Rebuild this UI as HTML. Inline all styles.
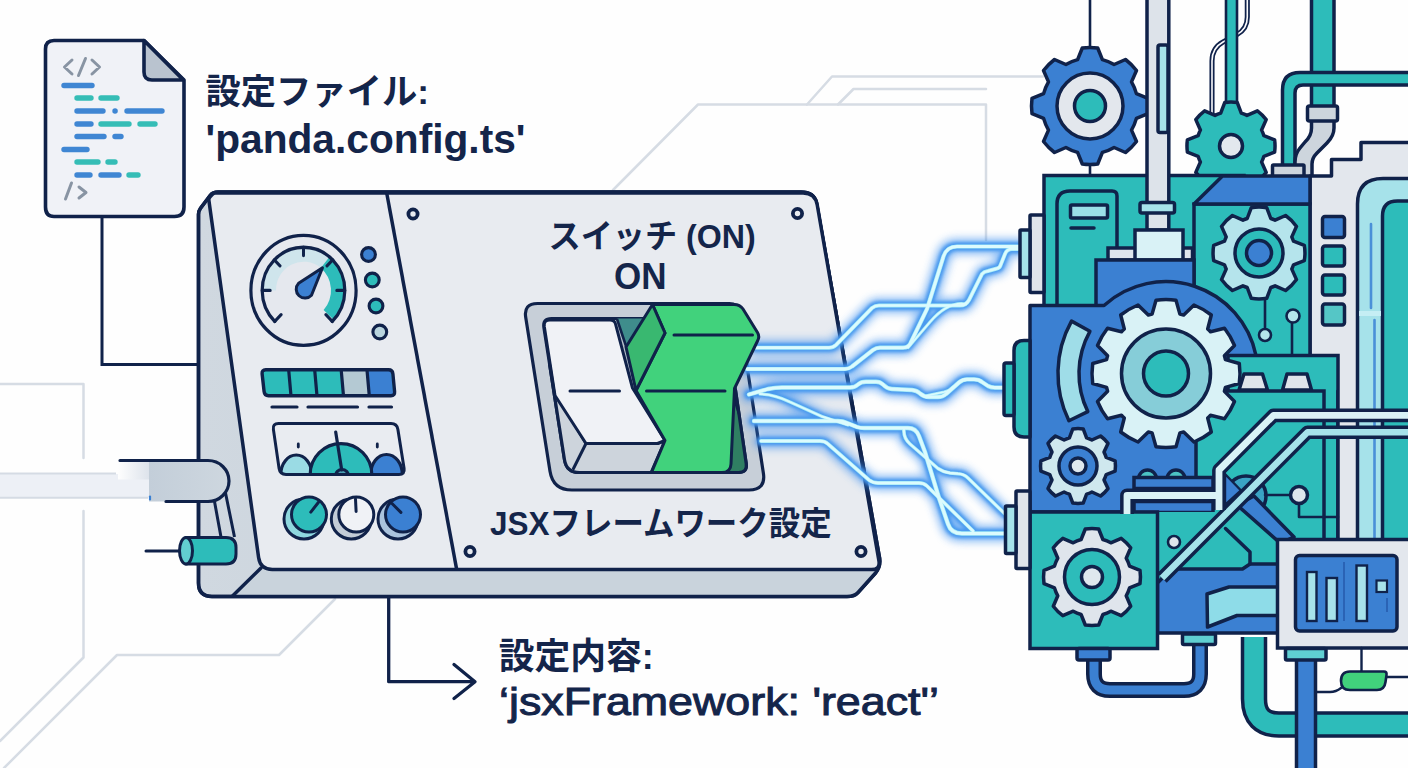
<!DOCTYPE html>
<html lang="ja"><head><meta charset="utf-8"><title>panda.config.ts — jsxFramework: 'react'</title>
<style>html,body{margin:0;padding:0;background:#fefefe}body{width:1408px;height:768px;overflow:hidden;font-family:"Liberation Sans",sans-serif}svg{display:block}</style>
</head><body>
<svg width="1408" height="768" viewBox="0 0 1408 768">
<defs>
<filter id="gl" x="-20%" y="-20%" width="140%" height="140%"><feGaussianBlur stdDeviation="4.2"/></filter>
<filter id="gl2" x="-20%" y="-20%" width="140%" height="140%"><feGaussianBlur stdDeviation="1.6"/></filter>
<linearGradient id="sideg" x1="0" y1="0" x2="1" y2="0"><stop offset="0" stop-color="#d0d8e0"/><stop offset="1" stop-color="#c1ccd6"/></linearGradient>
<linearGradient id="pipeg" x1="0" y1="0" x2="1" y2="0"><stop offset="0" stop-color="#c3ced9"/><stop offset="1" stop-color="#ced7df"/></linearGradient>
<linearGradient id="fadeg" x1="0" y1="0" x2="1" y2="0"><stop offset="0" stop-color="#fefefe"/><stop offset="1" stop-color="#dde3eb"/></linearGradient>
</defs>
<rect width="1408" height="768" fill="#fefefe"/>
<g fill="none" stroke="#d6dce4" stroke-width="2.5" stroke-linecap="round" stroke-linejoin="round"><path d="M613 190L698 104.5H986V240"/><path d="M807 104.5L832 76.5H1043"/><path d="M838 104.5L853.5 89H986"/><path d="M0 384H83.5V458"/><path d="M83.5 511V657.5L0 741"/><path d="M335 599L279 655H117L4 768"/></g>
<rect x="0" y="474" width="149" height="23.5" fill="#edf0f6"/>
<path d="M0 473.5H116M0 497.8H148" stroke="#d5dbe4" stroke-width="2" fill="none"/>
<path d="M102 217V364.5H200" fill="none" stroke="#10224a" stroke-width="3"/>
<path d="M54 40.5H144L184 80V207Q184 216.5 174.5 216.5H54Q45.5 216.5 45.5 207V49Q45.5 40.5 54 40.5Z" fill="#f0f2f7" stroke="#10224a" stroke-width="3.6" stroke-linejoin="round"/>
<path d="M144 40.5L183.3 80H152Q144 80 144 72Z" fill="#b9c3cf" stroke="#10224a" stroke-width="3.6" stroke-linejoin="round"/>
<g fill="none" stroke="#8894a3" stroke-width="3" stroke-linecap="round" stroke-linejoin="round"><path d="M72 60L64.5 67L72 74M85.5 58.5L78.5 75.5M92 60L99.5 67L92 74"/><path d="M71.5 183L65.5 199M79 187L86 192.5L79 198"/></g>
<g fill="none" stroke-width="5.4" stroke-linecap="round"><path d="M64 85.5H92" stroke="#3f86d3"/><path d="M77 98H91" stroke="#35bdb6"/><path d="M101 98H117" stroke="#35bdb6"/><path d="M77 111H103" stroke="#3f86d3"/><path d="M127 111H162" stroke="#3f86d3"/><path d="M77 124H91" stroke="#3f86d3"/><path d="M101 124H129" stroke="#35bdb6"/><path d="M140 124H155" stroke="#35bdb6"/><path d="M77 136.5H104" stroke="#3f86d3"/><path d="M115 136.5H121" stroke="#3f86d3"/><path d="M64 149.5H87" stroke="#3f86d3"/><path d="M77 162H98" stroke="#35bdb6"/><path d="M108 162H115" stroke="#35bdb6"/><path d="M77 175H90" stroke="#3f86d3"/><path d="M101 175H119" stroke="#3f86d3"/><path d="M129 175H138" stroke="#35bdb6"/><path d="M115 111h.1" stroke="#3f86d3"/></g>
<path d="M198.5 218V214.5Q198.5 211 200.5 208.3L210.5 195Q213 192 218 192H801Q814 192 816.5 203L879.2 556Q881.5 566 875.5 573L858 592.5Q854.5 596.5 847 596.5H212Q198.5 596.5 198.5 583Z" fill="url(#sideg)" stroke="#10224a" stroke-width="3.5" stroke-linejoin="round"/>
<path d="M262 569.5H871L879 566L875.5 573L858 592.5Q854.5 596.5 847 596.5H232Z" fill="#c9d3dc"/>
<path d="M198.5 218V214.5Q198.5 211 200.5 208.3L210.5 195Q213 192 218 192H801Q814 192 816.5 203L879.2 556Q881.5 566 875.5 573L858 592.5Q854.5 596.5 847 596.5H212Q198.5 596.5 198.5 583Z" fill="none" stroke="#10224a" stroke-width="3.5" stroke-linejoin="round"/>
<path d="M212.2 194.5Q213.5 193 215.5 193L803.1 193Q815.1 193 817.2 204.8L878.9 560.6Q880.5 569.5 871.5 569.5L272.3 569.5Q260.3 569.5 258.6 557.6L208.9 200.5Q208.6 198.5 209.9 197Z" fill="#e8ebf0" stroke="#10224a" stroke-width="3.5" stroke-linejoin="round"/>
<path d="M261 568L232.5 596" stroke="#10224a" stroke-width="3.5" stroke-linecap="round"/>
<path d="M386.7 193L456.7 569.5" stroke="#10224a" stroke-width="3.5"/>
<circle cx="413" cy="214" r="4.6" fill="#e8ebf0" stroke="#10224a" stroke-width="3.8"/>
<circle cx="797.5" cy="213.5" r="4.6" fill="#e8ebf0" stroke="#10224a" stroke-width="3.8"/>
<circle cx="861" cy="551.5" r="4.6" fill="#e8ebf0" stroke="#10224a" stroke-width="3.8"/>
<circle cx="470" cy="551.5" r="4.6" fill="#e8ebf0" stroke="#10224a" stroke-width="3.8"/>
<path d="M213.5 496L221 537M224.5 488L234.5 537" stroke="#10224a" stroke-width="3" fill="none"/>
<rect x="118" y="462" width="31" height="17.5" fill="url(#fadeg)"/>
<path d="M149 460.5H208A21 20.5 0 0 1 208 501.5H149Z" fill="url(#pipeg)"/>
<path d="M120 460.5H208A21 20.5 0 0 1 208 501.5H166" fill="none" stroke="#10224a" stroke-width="3.2" stroke-linecap="round"/>
<path d="M150 496.5V499.5" stroke="#3b80d2" stroke-width="2.2" stroke-linecap="round"/>
<path d="M146 551H180" stroke="#10224a" stroke-width="3" stroke-linecap="round"/>
<path d="M186 537.5H226Q236 537.5 236 547.5V554Q236 564 226 564H186Z" fill="#2dbcba" stroke="#10224a" stroke-width="3" stroke-linejoin="round"/>
<ellipse cx="186" cy="550.8" rx="6.5" ry="13.3" fill="#62cfd0" stroke="#10224a" stroke-width="3"/>
<g transform="translate(303.5 290.4) scale(1 1.045) translate(-303.5 -290.4)">
<circle cx="303.5" cy="290.4" r="52.6" fill="#e5e8ee" stroke="#10224a" stroke-width="3.2"/>
<path d="M262.2 290.4A41.3 41.3 0 0 1 329.5 258.3L320.8 269A27.5 27.5 0 0 0 276 290.4Z" fill="#cfe5ec"/>
<path d="M329.5 258.3A41.3 41.3 0 0 1 333.7 318.6L323.6 309.2A27.5 27.5 0 0 0 320.8 269Z" fill="#2dbcba"/>
<path d="M274.8 320.1A41.3 41.3 0 1 1 332.2 320.1" fill="none" stroke="#10224a" stroke-width="3.2" stroke-linecap="round"/>
<path d="M274.8 320.1L281.1 313.6M262.2 290.4L270.2 290.4M274.3 261.2L280 266.9M303.5 249.1L303.5 257.1M332.7 261.2L327 266.9M344.8 290.4L336.8 290.4M332.2 320.1L325.9 313.6" stroke="#10224a" stroke-width="3" stroke-linecap="round" fill="none"/>
</g>
<path d="M322.5 267.8L311.5 295.3A8.3 8.3 0 1 1 298.6 283.3Z" fill="#3b80d2" stroke="#10224a" stroke-width="3" stroke-linejoin="round"/>
<circle cx="368.5" cy="254.5" r="6.9" fill="#3b80d2" stroke="#10224a" stroke-width="3.1"/>
<circle cx="372.3" cy="280" r="6.9" fill="#2dbcba" stroke="#10224a" stroke-width="3.1"/>
<circle cx="376" cy="306" r="6.9" fill="#2dbcba" stroke="#10224a" stroke-width="3.1"/>
<circle cx="379.8" cy="332" r="6.9" fill="#b9d5de" stroke="#10224a" stroke-width="3.1"/>
<path d="M262.1 373.8Q261.7 369.8 265.7 369.8L388.5 369.8Q392.5 369.8 392.9 373.8L394.6 391.7Q395 395.7 391 395.7L268.5 395.7Q264.5 395.7 264.1 391.7Z" fill="#2dbcba"/>
<path d="M341.2 371L343.5 394.5H369.3L367 371Z" fill="#b4c9d3"/><path d="M367 371L369.3 394.5H393.3L391 371Z" fill="#3b80d2"/>
<path d="M288.7 370L291 396M314.7 370L317 396M341.2 370L343.5 396M367 370L369.3 396" stroke="#10224a" stroke-width="3.2"/>
<path d="M262.1 373.8Q261.7 369.8 265.7 369.8L388.5 369.8Q392.5 369.8 392.9 373.8L394.6 391.7Q395 395.7 391 395.7L268.5 395.7Q264.5 395.7 264.1 391.7Z" fill="none" stroke="#10224a" stroke-width="3.4" stroke-linejoin="round"/>
<path d="M272 407H297M308 407H357.5M369 407H391.5" stroke="#10224a" stroke-width="3.2" stroke-linecap="round"/>
<clipPath id="mc"><path d="M273.4 429.4Q272.5 423.5 278.5 423.5L391 423.5Q397 423.5 397.9 429.4L404.1 468.6Q405 474.5 399 474.5L286 474.5Q280 474.5 279.1 468.6Z"/></clipPath>
<path d="M273.4 429.4Q272.5 423.5 278.5 423.5L391 423.5Q397 423.5 397.9 429.4L404.1 468.6Q405 474.5 399 474.5L286 474.5Q280 474.5 279.1 468.6Z" fill="#e9ecf1"/>
<g clip-path="url(#mc)" stroke="#10224a" stroke-width="3.2"><ellipse cx="296.3" cy="474.5" rx="15.5" ry="19.5" fill="#9adbe4"/><ellipse cx="386.5" cy="474.5" rx="15.8" ry="20" fill="#3b80d2"/><circle cx="341" cy="474.5" r="30.8" fill="#2dbcba"/><circle cx="342" cy="476" r="6.5" fill="#4ba0b4"/></g>
<path d="M341.7 470L335.7 432" stroke="#10224a" stroke-width="3.2" stroke-linecap="round"/>
<path d="M298.3 444V447M377.3 444V447" stroke="#10224a" stroke-width="2.8" stroke-linecap="round"/>
<path d="M273.4 429.4Q272.5 423.5 278.5 423.5L391 423.5Q397 423.5 397.9 429.4L404.1 468.6Q405 474.5 399 474.5L286 474.5Q280 474.5 279.1 468.6Z" fill="none" stroke="#10224a" stroke-width="3" stroke-linejoin="round"/>
<circle cx="304" cy="519" r="20" fill="#8fd8df" stroke="#10224a" stroke-width="3"/>
<circle cx="309" cy="514.5" r="17.5" fill="#2dbcba" stroke="#10224a" stroke-width="3"/>
<path d="M310.8 512.1L318.5 502.3" stroke="#10224a" stroke-width="3" stroke-linecap="round"/>
<circle cx="351.3" cy="519" r="20" fill="#c3ccd7" stroke="#10224a" stroke-width="3"/>
<circle cx="356.3" cy="514.5" r="17.5" fill="#f0f2f6" stroke="#10224a" stroke-width="3"/>
<path d="M356.1 511.5L355.5 499" stroke="#10224a" stroke-width="3" stroke-linecap="round"/>
<circle cx="398" cy="519" r="20" fill="#aac3dd" stroke="#10224a" stroke-width="3"/>
<circle cx="403" cy="514.5" r="17.5" fill="#3b80d2" stroke="#10224a" stroke-width="3"/>
<path d="M400.9 512.4L392 503.5" stroke="#10224a" stroke-width="3" stroke-linecap="round"/>
<path d="M525.7 317.3Q523.5 303.5 537.5 303.5L729.5 303.5Q737.5 303.5 738.7 311.4L763.4 473.2Q766 490 749 490L572 490Q553 490 550 471.2Z" fill="#c7cfd8" stroke="#10224a" stroke-width="3.2" stroke-linejoin="round"/>
<path d="M543.9 327.4Q542.5 318.5 551.5 318.5L721 318.5Q725 318.5 725.6 322.5L746.2 463.6Q747.5 472.5 738.5 472.5L579.5 472.5Q566.5 472.5 564.5 459.7Z" fill="#b7c1cc" stroke="#10224a" stroke-width="3.2" stroke-linejoin="round"/>
<clipPath id="wc"><path d="M543.9 327.4Q542.5 318.5 551.5 318.5L721 318.5Q725 318.5 725.6 322.5L746.2 463.6Q747.5 472.5 738.5 472.5L579.5 472.5Q566.5 472.5 564.5 459.7Z"/></clipPath>
<g fill="none" stroke-linecap="round" stroke-linejoin="round"><g filter="url(#gl)" stroke="#3b8ff0" opacity=".62"><path d="M756 347.7H829Q833 347.7 836 345L872 308Q875 305.5 879 305.5H960Q966 305.5 969 300L982 274Q984 271.5 988 271L997 268.5Q1000 268 1001 264L1005 254Q1007 249 1012 249H1020" stroke-width="15.0"/><path d="M747 369H845Q849 369 852 366.5L873 350Q876 347.7 880 347.7H903Q909 347.7 911 342L927 309L943 258Q946 246.5 957 246.5H1020" stroke-width="15.5"/><path d="M908 347.7L930 322Q948 301 966 304" stroke-width="12.5"/><path d="M749 394.5L768 389Q775 387.5 782 387.5H850Q855 387.5 858 384.5Q861 381.7 866 381.7H876Q880 381.7 883 384.5Q887 388.7 892 389L912 390Q917 390.5 920 393.5Q924 397 929 397H938Q943 397 946 394L959 382.5Q962.5 379.4 967 379.4H974Q979 379.4 982 382L988 386Q991 387.6 995 387.6H1004" stroke-width="16.0"/><path d="M754 421H838Q843 421 847 423L857 427Q860 428 864 428H908Q916 428 919 436L925 452L939 498L948 524Q951 533.5 962 533.5H1006" stroke-width="16.0"/><path d="M761 441H820Q825 441 828 444L869 480Q873 483 878 483H919Q924 483 927 486L973 531" stroke-width="14.5"/><path d="M760 394Q775 394.5 790 402L822 416.5L848 425" stroke-width="13.0"/><path d="M904 428.5Q903 438 910 444L938 468.5Q943 472 950 473L958 473.7Q964 474 968 478L1006 515" stroke-width="14.0"/><path d="M925 396L944 392Q950 390.5 953 387" stroke-width="12.2"/></g><g filter="url(#gl2)" stroke="#4597ee" opacity=".92"><path d="M756 347.7H829Q833 347.7 836 345L872 308Q875 305.5 879 305.5H960Q966 305.5 969 300L982 274Q984 271.5 988 271L997 268.5Q1000 268 1001 264L1005 254Q1007 249 1012 249H1020" stroke-width="8.8"/><path d="M747 369H845Q849 369 852 366.5L873 350Q876 347.7 880 347.7H903Q909 347.7 911 342L927 309L943 258Q946 246.5 957 246.5H1020" stroke-width="9.2"/><path d="M908 347.7L930 322Q948 301 966 304" stroke-width="7.2"/><path d="M749 394.5L768 389Q775 387.5 782 387.5H850Q855 387.5 858 384.5Q861 381.7 866 381.7H876Q880 381.7 883 384.5Q887 388.7 892 389L912 390Q917 390.5 920 393.5Q924 397 929 397H938Q943 397 946 394L959 382.5Q962.5 379.4 967 379.4H974Q979 379.4 982 382L988 386Q991 387.6 995 387.6H1004" stroke-width="9.5"/><path d="M754 421H838Q843 421 847 423L857 427Q860 428 864 428H908Q916 428 919 436L925 452L939 498L948 524Q951 533.5 962 533.5H1006" stroke-width="9.5"/><path d="M761 441H820Q825 441 828 444L869 480Q873 483 878 483H919Q924 483 927 486L973 531" stroke-width="8.5"/><path d="M760 394Q775 394.5 790 402L822 416.5L848 425" stroke-width="7.6"/><path d="M904 428.5Q903 438 910 444L938 468.5Q943 472 950 473L958 473.7Q964 474 968 478L1006 515" stroke-width="8.2"/><path d="M925 396L944 392Q950 390.5 953 387" stroke-width="7.1"/></g><g stroke="#a4ebf8"><path d="M756 347.7H829Q833 347.7 836 345L872 308Q875 305.5 879 305.5H960Q966 305.5 969 300L982 274Q984 271.5 988 271L997 268.5Q1000 268 1001 264L1005 254Q1007 249 1012 249H1020" stroke-width="4.0"/><path d="M747 369H845Q849 369 852 366.5L873 350Q876 347.7 880 347.7H903Q909 347.7 911 342L927 309L943 258Q946 246.5 957 246.5H1020" stroke-width="4.2"/><path d="M908 347.7L930 322Q948 301 966 304" stroke-width="3.0"/><path d="M749 394.5L768 389Q775 387.5 782 387.5H850Q855 387.5 858 384.5Q861 381.7 866 381.7H876Q880 381.7 883 384.5Q887 388.7 892 389L912 390Q917 390.5 920 393.5Q924 397 929 397H938Q943 397 946 394L959 382.5Q962.5 379.4 967 379.4H974Q979 379.4 982 382L988 386Q991 387.6 995 387.6H1004" stroke-width="4.4"/><path d="M754 421H838Q843 421 847 423L857 427Q860 428 864 428H908Q916 428 919 436L925 452L939 498L948 524Q951 533.5 962 533.5H1006" stroke-width="4.4"/><path d="M761 441H820Q825 441 828 444L869 480Q873 483 878 483H919Q924 483 927 486L973 531" stroke-width="3.8"/><path d="M760 394Q775 394.5 790 402L822 416.5L848 425" stroke-width="3.2"/><path d="M904 428.5Q903 438 910 444L938 468.5Q943 472 950 473L958 473.7Q964 474 968 478L1006 515" stroke-width="3.6"/><path d="M925 396L944 392Q950 390.5 953 387" stroke-width="2.9"/></g><g stroke="#dcfbfd"><path d="M756 347.7H829Q833 347.7 836 345L872 308Q875 305.5 879 305.5H960Q966 305.5 969 300L982 274Q984 271.5 988 271L997 268.5Q1000 268 1001 264L1005 254Q1007 249 1012 249H1020" stroke-width="2.7"/><path d="M747 369H845Q849 369 852 366.5L873 350Q876 347.7 880 347.7H903Q909 347.7 911 342L927 309L943 258Q946 246.5 957 246.5H1020" stroke-width="2.9"/><path d="M908 347.7L930 322Q948 301 966 304" stroke-width="1.7"/><path d="M749 394.5L768 389Q775 387.5 782 387.5H850Q855 387.5 858 384.5Q861 381.7 866 381.7H876Q880 381.7 883 384.5Q887 388.7 892 389L912 390Q917 390.5 920 393.5Q924 397 929 397H938Q943 397 946 394L959 382.5Q962.5 379.4 967 379.4H974Q979 379.4 982 382L988 386Q991 387.6 995 387.6H1004" stroke-width="3.1"/><path d="M754 421H838Q843 421 847 423L857 427Q860 428 864 428H908Q916 428 919 436L925 452L939 498L948 524Q951 533.5 962 533.5H1006" stroke-width="3.1"/><path d="M761 441H820Q825 441 828 444L869 480Q873 483 878 483H919Q924 483 927 486L973 531" stroke-width="2.5"/><path d="M760 394Q775 394.5 790 402L822 416.5L848 425" stroke-width="1.9"/><path d="M904 428.5Q903 438 910 444L938 468.5Q943 472 950 473L958 473.7Q964 474 968 478L1006 515" stroke-width="2.3"/><path d="M925 396L944 392Q950 390.5 953 387" stroke-width="1.6"/></g></g>
<g clip-path="url(#wc)">
<path d="M616 316H654L640 352L627 349Z" fill="#3f8d8c" stroke="#10224a" stroke-width="2.6" stroke-linejoin="round"/>
<path d="M731 388L760 480H722Z" fill="#2f7f62" stroke="#10224a" stroke-width="2.8" stroke-linejoin="round"/>
<path d="M548 380L586 443.5H657.5L665 440.5L647 482H556Z" fill="#cdd4dc" stroke="#10224a" stroke-width="3" stroke-linejoin="round"/>
</g>
<path d="M550 320H610Q614.5 320 615.5 324L632.5 388L665 440.5L657.5 443.5H586L555 395.5L544.3 326.5Q543.5 320 550 320Z" fill="#f0f2f6" stroke="#10224a" stroke-width="3" stroke-linejoin="round"/>
<path d="M586 443.5L573.5 468.5M570 391H619.5M588 443.5H656" stroke="#10224a" stroke-width="3" stroke-linecap="round" fill="none"/>
<clipPath id="gc"><path d="M500 290H800V380H500ZM500 380H800V500H500Z"/></clipPath>
<path d="M652.5 304.5H734Q740 304.5 743 309L757.5 332.5Q760 336.5 757.5 341L734.5 388.5L731 464Q730.7 472.5 722 472.5H651.5L665 440.5L636 390.5L665 333Z" fill="#41d27c" stroke="#10224a" stroke-width="3" stroke-linejoin="round"/>
<path d="M652.5 304.5L665 333L636 390.5L626 347Z" fill="#39b870" stroke="#10224a" stroke-width="3" stroke-linejoin="round"/>
<path d="M674 335H752.5M646.5 391H725" stroke="#10224a" stroke-width="3" stroke-linecap="round" fill="none"/>
<path d="M549.7 365L564.5 459.7Q566.5 472.5 579.5 472.5H738.5Q747.5 472.5 746.2 463.6L735.5 390" fill="none" stroke="#10224a" stroke-width="3.2" stroke-linejoin="round" stroke-linecap="round"/>
<path d="M388.7 597V681.7H474M454 664.5L475 681.7L454 698.5" fill="none" stroke="#10224a" stroke-width="3.3" stroke-linecap="round" stroke-linejoin="round"/>
<g font-family="'Liberation Sans', 'Noto Sans CJK JP', sans-serif"><text x="205.5" y="104.1" font-size="35.4" font-weight="700" textLength="223.5" lengthAdjust="spacingAndGlyphs" fill="#14254a">設定ファイル:</text><text x="548.5" y="248.4" font-size="32.9" font-weight="700" textLength="207.1" lengthAdjust="spacingAndGlyphs" fill="#14254a">スイッチ (ON)</text><text x="490.1" y="534.8" font-size="32.8" font-weight="700" textLength="341.6" lengthAdjust="spacingAndGlyphs" fill="#14254a">JSXフレームワーク設定</text><text x="498.75" y="668.5" font-size="36.5" font-weight="700" textLength="155.0" lengthAdjust="spacingAndGlyphs" fill="#14254a">設定内容:</text></g>
<g font-family="'Liberation Sans', sans-serif" fill="#14254a"><text x="205.5" y="152.5" font-size="41" font-weight="700" textLength="320" lengthAdjust="spacingAndGlyphs">'panda.config.ts'</text><text x="614" y="289" font-size="36" font-weight="700" textLength="52.5" lengthAdjust="spacingAndGlyphs">ON</text><text x="499" y="715" font-size="39.5" stroke="#14254a" stroke-width="1" textLength="440" lengthAdjust="spacingAndGlyphs">‘jsxFramework: 'react'’</text></g>
<g><path d="M1090 0V178" fill="none" stroke="#10224a" stroke-width="2.6" stroke-linejoin="round" stroke-linecap="round" /><path d="M1077.6 59.6L1082.3 48A58.5 58.5 0 0 1 1097.7 48L1102.4 59.6A48 48 0 0 1 1114.1 64.5L1125.5 59.5A58.5 58.5 0 0 1 1136.5 70.5L1131.5 81.9A48 48 0 0 1 1136.4 93.6L1148 98.3A58.5 58.5 0 0 1 1148 113.7L1136.4 118.4A48 48 0 0 1 1131.5 130.1L1136.5 141.5A58.5 58.5 0 0 1 1125.5 152.5L1114.1 147.5A48 48 0 0 1 1102.4 152.4L1097.7 164A58.5 58.5 0 0 1 1082.3 164L1077.6 152.4A48 48 0 0 1 1065.9 147.5L1054.5 152.5A58.5 58.5 0 0 1 1043.5 141.5L1048.5 130.1A48 48 0 0 1 1043.6 118.4L1032 113.7A58.5 58.5 0 0 1 1032 98.3L1043.6 93.6A48 48 0 0 1 1048.5 81.9L1043.5 70.5A58.5 58.5 0 0 1 1054.5 59.5L1065.9 64.5A48 48 0 0 1 1077.6 59.6Z" fill="#3b80d2" stroke="#10224a" stroke-width="3.5" stroke-linejoin="round" stroke-linecap="round" /><circle cx="1090" cy="106" r="33" fill="#e3e7ed" stroke="#10224a" stroke-width="3.5"/><circle cx="1090" cy="106" r="15.5" fill="#2dbcba" stroke="#10224a" stroke-width="3.5"/><path d="M1247.3 -2V17Q1247.3 29 1237 34.5L1223 42Q1212 48 1212 61V114" fill="none" stroke="#10224a" stroke-width="5.1" stroke-linejoin="round"/><path d="M1247.3 -2V17Q1247.3 29 1237 34.5L1223 42Q1212 48 1212 61V114" fill="none" stroke="#fdfdfe" stroke-width="1.6" stroke-linejoin="round"/><rect x="1226" y="-6" width="11" height="110" rx="0" fill="#2dbcba" stroke="#10224a" stroke-width="2.6" /><path d="M1220.7 113.1L1224.8 102.4A44 44 0 0 1 1237.2 102.4L1241.3 113.1A34.5 34.5 0 0 1 1247 115.4L1257.4 110.8A44 44 0 0 1 1266.2 119.6L1261.6 130A34.5 34.5 0 0 1 1263.9 135.7L1274.6 139.8A44 44 0 0 1 1274.6 152.2L1263.9 156.3A34.5 34.5 0 0 1 1261.6 162L1266.2 172.4A44 44 0 0 1 1257.4 181.2L1247 176.6A34.5 34.5 0 0 1 1241.3 178.9L1237.2 189.6A44 44 0 0 1 1224.8 189.6L1220.7 178.9A34.5 34.5 0 0 1 1215 176.6L1204.6 181.2A44 44 0 0 1 1195.8 172.4L1200.4 162A34.5 34.5 0 0 1 1198.1 156.3L1187.4 152.2A44 44 0 0 1 1187.4 139.8L1198.1 135.7A34.5 34.5 0 0 1 1200.4 130L1195.8 119.6A44 44 0 0 1 1204.6 110.8L1215 115.4A34.5 34.5 0 0 1 1220.7 113.1Z" fill="#2dbcba" stroke="#10224a" stroke-width="3.5" stroke-linejoin="round" stroke-linecap="round" /><circle cx="1231" cy="146" r="11.5" fill="#e3e8ee" stroke="#10224a" stroke-width="3.5"/><rect x="1311.5" y="-6" width="22.5" height="114" rx="0" fill="#2dbcba" stroke="#10224a" stroke-width="3.5" /><path d="M1412 72.5H1300Q1282.5 72.5 1282.5 90V168H1295V93Q1295 85 1303 85H1412Z" fill="#2dbcba" stroke="#10224a" stroke-width="3.5" stroke-linejoin="round" stroke-linecap="round" /><path d="M1311.5 120V128Q1311.5 136 1305 142L1300 148Q1295 154 1295 162V178H1312V164Q1312 158 1317 153L1327 143Q1334 136 1334 128V120Z" fill="#cdd5dd" stroke="#10224a" stroke-width="3.5" stroke-linejoin="round" stroke-linecap="round" /><rect x="1307.5" y="106" width="30" height="15" rx="2" fill="#cdd5dd" stroke="#10224a" stroke-width="3.5" /><rect x="1272.5" y="165" width="31.5" height="12" rx="1" fill="#cdd5dd" stroke="#10224a" stroke-width="3.5" /><path d="M1310 176H1331.5V159.5H1361V142.5H1412V546H1310Z" fill="#e3e7ed" stroke="#10224a" stroke-width="3.5" stroke-linejoin="round" stroke-linecap="round" /><path d="M1357.5 546V204Q1357.5 178.5 1383 178.5H1412V546Z" fill="#a6e2ea" stroke="#10224a" stroke-width="3.5" stroke-linejoin="round" stroke-linecap="round" /><path d="M1382.5 546V216Q1382.5 201 1397.5 201H1412V546Z" fill="#2dbcba" stroke="#10224a" stroke-width="3.5" stroke-linejoin="round" stroke-linecap="round" /><path d="M1371 224V308M1374.5 320V546" fill="none" stroke="#4a90d8" stroke-width="2.6" stroke-linecap="round"/><path d="M1359 313.5H1381" stroke="#c5eef4" stroke-width="5" fill="none"/><rect x="1322.5" y="216.5" width="22" height="21" rx="2.5" fill="#3b80d2" stroke="#10224a" stroke-width="3.5" /><rect x="1322.5" y="246" width="22" height="20" rx="2.5" fill="#2dbcba" stroke="#10224a" stroke-width="3.5" /><rect x="1322.5" y="275" width="22" height="20" rx="2.5" fill="#2dbcba" stroke="#10224a" stroke-width="3.5" /><rect x="1322.5" y="304" width="22" height="21" rx="2.5" fill="#55c6c6" stroke="#10224a" stroke-width="3.5" /><rect x="1044" y="175.5" width="200" height="131" rx="0" fill="#2dbcba" stroke="#10224a" stroke-width="3.5" /><rect x="1194" y="204" width="116" height="152" rx="0" fill="#2dbcba" stroke="#10224a" stroke-width="3.5" /><path d="M1222.5 176H1310V204H1194Z" fill="#3b80d2" stroke="#10224a" stroke-width="3.5" stroke-linejoin="round" stroke-linecap="round" /><path d="M1057 306V204Q1057 191 1070 191H1112Q1117 191 1117 196V306" fill="none" stroke="#10224a" stroke-width="3.5" stroke-linejoin="round" stroke-linecap="round" /><rect x="1070.5" y="205" width="37" height="13" rx="1.5" fill="#9adfe8" stroke="#10224a" stroke-width="3.5" /><path d="M1071 228H1094" fill="none" stroke="#10224a" stroke-width="3.5" stroke-linejoin="round" stroke-linecap="round" /><rect x="1030" y="215" width="14" height="77.5" rx="1" fill="#dfe4eb" stroke="#10224a" stroke-width="3.5" /><rect x="1020" y="230" width="10" height="47.5" rx="1" fill="#a6e2ea" stroke="#10224a" stroke-width="3.5" /><rect x="1147" y="-6" width="21.8" height="236" rx="0" fill="#dde3ea" stroke="#10224a" stroke-width="3.5" /><rect x="1158" y="45" width="10" height="87.5" rx="2" fill="#a6e2ea" stroke="#10224a" stroke-width="3.5" /><rect x="1140" y="202.5" width="34.5" height="10.5" rx="2" fill="#a6e2ea" stroke="#10224a" stroke-width="3.5" /><rect x="1108" y="248" width="84.5" height="12" rx="0" fill="#dfe5ec" stroke="#10224a" stroke-width="3.5" /><rect x="1135" y="230" width="48" height="30" rx="0" fill="#d9f2f6" stroke="#10224a" stroke-width="3.5" /><rect x="1096" y="260" width="98" height="46" rx="0" fill="#3b80d2" stroke="#10224a" stroke-width="3.5" /><path d="M1030 305.5H1104A92 92 0 0 1 1256 355.5V512H1030Z" fill="#3b80d2" stroke="#10224a" stroke-width="3.5" stroke-linejoin="round" stroke-linecap="round" /><path d="M1030 340.5H1024Q1014 340.5 1014 350.5V427Q1014 437 1024 437H1030Z" fill="#2dbcba" stroke="#10224a" stroke-width="3.5" stroke-linejoin="round" stroke-linecap="round" /><rect x="1004" y="363" width="10" height="52.5" rx="2" fill="#2dbcba" stroke="#10224a" stroke-width="3.5" /><path d="M1265 296V330M1292 322V356" fill="none" stroke="#10224a" stroke-width="2.6" stroke-linejoin="round" stroke-linecap="round" /><path d="M1247.2 218.5L1251.3 207.7A46 46 0 0 1 1266.7 207.7L1270.8 218.5A36.5 36.5 0 0 1 1275.1 220.2L1285.6 215.5A46 46 0 0 1 1296.5 226.4L1291.8 236.9A36.5 36.5 0 0 1 1293.5 241.2L1304.3 245.3A46 46 0 0 1 1304.3 260.7L1293.5 264.8A36.5 36.5 0 0 1 1291.8 269.1L1296.5 279.6A46 46 0 0 1 1285.6 290.5L1275.1 285.8A36.5 36.5 0 0 1 1270.8 287.5L1266.7 298.3A46 46 0 0 1 1251.3 298.3L1247.2 287.5A36.5 36.5 0 0 1 1242.9 285.8L1232.4 290.5A46 46 0 0 1 1221.5 279.6L1226.2 269.1A36.5 36.5 0 0 1 1224.5 264.8L1213.7 260.7A46 46 0 0 1 1213.7 245.3L1224.5 241.2A36.5 36.5 0 0 1 1226.2 236.9L1221.5 226.4A46 46 0 0 1 1232.4 215.5L1242.9 220.2A36.5 36.5 0 0 1 1247.2 218.5Z" fill="#b5e4ec" stroke="#10224a" stroke-width="3.5" stroke-linejoin="round" stroke-linecap="round" /><circle cx="1259" cy="253" r="24" fill="#2dbcba" stroke="#10224a" stroke-width="3.5"/><circle cx="1259" cy="253" r="12.5" fill="#3b80d2" stroke="#10224a" stroke-width="3.5"/><circle cx="1265" cy="335" r="6" fill="#b5e4ec" stroke="#10224a" stroke-width="2.6"/><circle cx="1293" cy="316" r="6.5" fill="#b5e4ec" stroke="#10224a" stroke-width="2.6"/><rect x="1228" y="355.5" width="110" height="190" rx="0" fill="#2dbcba" stroke="#10224a" stroke-width="3.5" /><path d="M1239 390L1244 374H1262.5L1267.5 390Z" fill="#dfe4eb" stroke="#10224a" stroke-width="3.5" stroke-linejoin="round" stroke-linecap="round" /><path d="M1282.5 390L1287 374H1307L1311.5 390Z" fill="#dfe4eb" stroke="#10224a" stroke-width="3.5" stroke-linejoin="round" stroke-linecap="round" /><rect x="1196" y="391" width="128" height="154" rx="0" fill="#2dbcba" stroke="#10224a" stroke-width="3.5" /><path d="M1337.5 391V546" fill="none" stroke="#10224a" stroke-width="2.6" stroke-linejoin="round" stroke-linecap="round" /><circle cx="1246" cy="496" r="20" fill="#3aa3c4" stroke="#10224a" stroke-width="3.5"/><path d="M1265 495H1292M1299 503V517H1338" fill="none" stroke="#10224a" stroke-width="2.6" stroke-linejoin="round" stroke-linecap="round" /><circle cx="1299" cy="495" r="8.5" fill="#dfe5ec" stroke="#10224a" stroke-width="3.5"/><path d="M1138.5 479A9 9 0 0 1 1156.5 479ZM1167 479A9 9 0 0 1 1185 479Z" fill="#4cc3c4" stroke="#10224a" stroke-width="3.5" stroke-linejoin="round" stroke-linecap="round" /><rect x="1134" y="477.5" width="79" height="11" rx="0" fill="#3b80d2" stroke="#10224a" stroke-width="3.5" /><rect x="1134" y="501.5" width="79" height="11" rx="0" fill="#3b80d2" stroke="#10224a" stroke-width="3.5" /><rect x="1157.5" y="512" width="122" height="121.5" fill="#2dbcba"/><path d="M1157.5 583L1171 569H1242.5L1250 564H1279V633H1157.5Z" fill="#3b80d2" stroke="#10224a" stroke-width="3.5" stroke-linejoin="round" stroke-linecap="round" /><path d="M1225.5 528.5L1250 552V564" fill="none" stroke="#10224a" stroke-width="3.5" stroke-linejoin="round" stroke-linecap="round" /><path d="M1254 496L1294 537L1280 543L1237 505Z" fill="#3b80d2" stroke="#10224a" stroke-width="3.5" stroke-linejoin="round" stroke-linecap="round" /><path d="M1207 594L1229 587H1279V615.5H1237L1207.5 627Z" fill="#8edce8" stroke="#10224a" stroke-width="3.5" stroke-linejoin="round" stroke-linecap="round" /><circle cx="1174" cy="542" r="6" fill="#dfe5ec" stroke="#10224a" stroke-width="2.6"/><rect x="1030" y="512" width="127.5" height="136.5" rx="0" fill="#2dbcba" stroke="#10224a" stroke-width="3.5" /><rect x="1016" y="491" width="14" height="77.5" rx="1" fill="#dfe4eb" stroke="#10224a" stroke-width="3.5" /><rect x="1005.5" y="506" width="10.5" height="47.5" rx="1" fill="#a6e2ea" stroke="#10224a" stroke-width="3.5" /><path d="M1412 432.3H1307.5L1162 578" fill="none" stroke="#10224a" stroke-width="13.4" stroke-linejoin="round"/><path d="M1412 432.3H1307.5L1162 578" fill="none" stroke="#a6e2ea" stroke-width="6.4" stroke-linejoin="round"/><path d="M1412 415.3H1273.5L1219 470V510" fill="none" stroke="#10224a" stroke-width="13.8" stroke-linejoin="round"/><path d="M1219 495.5H1127V514" fill="none" stroke="#10224a" stroke-width="13.8" stroke-linejoin="round"/><path d="M1412 415.3H1273.5L1219 470V510" fill="none" stroke="#d9f2f6" stroke-width="6.8" stroke-linejoin="round"/><path d="M1219 495.5H1127V514" fill="none" stroke="#d9f2f6" stroke-width="6.8" stroke-linejoin="round"/><path d="M1225 474L1241 490.5L1225 505Z" fill="#3b80d2" stroke="#10224a" stroke-width="2.4" stroke-linejoin="round" stroke-linecap="round" /><path d="M1068.9 420.8A108 108 0 0 1 1071.5 321.1L1089.9 331.3A87 87 0 0 0 1087.8 411.6Z" fill="#9fdde8" stroke="#10224a" stroke-width="3.5" stroke-linejoin="round" stroke-linecap="round" /><path d="M1152.1 314.1L1156 300.2A74 74 0 0 1 1176 300.2L1179.9 314.1A61 61 0 0 1 1183.7 315.1L1194 305A74 74 0 0 1 1211.3 315L1207.7 329A61 61 0 0 1 1210.5 331.8L1224.5 328.2A74 74 0 0 1 1234.5 345.5L1224.4 355.8A61 61 0 0 1 1225.4 359.6L1239.3 363.5A74 74 0 0 1 1239.3 383.5L1225.4 387.4A61 61 0 0 1 1224.4 391.2L1234.5 401.5A74 74 0 0 1 1224.5 418.8L1210.5 415.2A61 61 0 0 1 1207.7 418L1211.3 432A74 74 0 0 1 1194 442L1183.7 431.9A61 61 0 0 1 1179.9 432.9L1176 446.8A74 74 0 0 1 1156 446.8L1152.1 432.9A61 61 0 0 1 1148.3 431.9L1138 442A74 74 0 0 1 1120.7 432L1124.3 418A61 61 0 0 1 1121.5 415.2L1107.5 418.8A74 74 0 0 1 1097.5 401.5L1107.6 391.2A61 61 0 0 1 1106.6 387.4L1092.7 383.5A74 74 0 0 1 1092.7 363.5L1106.6 359.6A61 61 0 0 1 1107.6 355.8L1097.5 345.5A74 74 0 0 1 1107.5 328.2L1121.5 331.8A61 61 0 0 1 1124.3 329L1120.7 315A74 74 0 0 1 1138 305L1148.3 315.1A61 61 0 0 1 1152.1 314.1Z" fill="#d9f2f6" stroke="#10224a" stroke-width="3.5" stroke-linejoin="round" stroke-linecap="round" /><circle cx="1166" cy="373.5" r="44.5" fill="#86cdd8" stroke="#10224a" stroke-width="3.5"/><circle cx="1166" cy="373.5" r="22.5" fill="#2dbcba" stroke="#10224a" stroke-width="3.5"/><path d="M1069.4 437.8L1072.8 428.9A37.5 37.5 0 0 1 1083.2 428.9L1086.6 437.8A29.5 29.5 0 0 1 1091.9 440L1100.6 436A37.5 37.5 0 0 1 1108 443.4L1104 452.1A29.5 29.5 0 0 1 1106.2 457.4L1115.1 460.8A37.5 37.5 0 0 1 1115.1 471.2L1106.2 474.6A29.5 29.5 0 0 1 1104 479.9L1108 488.6A37.5 37.5 0 0 1 1100.6 496L1091.9 492A29.5 29.5 0 0 1 1086.6 494.2L1083.2 503.1A37.5 37.5 0 0 1 1072.8 503.1L1069.4 494.2A29.5 29.5 0 0 1 1064.1 492L1055.4 496A37.5 37.5 0 0 1 1048 488.6L1052 479.9A29.5 29.5 0 0 1 1049.8 474.6L1040.9 471.2A37.5 37.5 0 0 1 1040.9 460.8L1049.8 457.4A29.5 29.5 0 0 1 1052 452.1L1048 443.4A37.5 37.5 0 0 1 1055.4 436L1064.1 440A29.5 29.5 0 0 1 1069.4 437.8Z" fill="#cfe8ee" stroke="#10224a" stroke-width="3.5" stroke-linejoin="round" stroke-linecap="round" /><circle cx="1078" cy="466" r="19" fill="#3b80d2" stroke="#10224a" stroke-width="3.5"/><circle cx="1078" cy="466" r="8" fill="#dfe8ee" stroke="#10224a" stroke-width="3.5"/><path d="M1081.1 539.5L1085.3 529A48.5 48.5 0 0 1 1098.7 529L1102.9 539.5A39 39 0 0 1 1110.8 542.8L1121.2 538.3A48.5 48.5 0 0 1 1130.7 547.8L1126.2 558.2A39 39 0 0 1 1129.5 566.1L1140 570.3A48.5 48.5 0 0 1 1140 583.7L1129.5 587.9A39 39 0 0 1 1126.2 595.8L1130.7 606.2A48.5 48.5 0 0 1 1121.2 615.7L1110.8 611.2A39 39 0 0 1 1102.9 614.5L1098.7 625A48.5 48.5 0 0 1 1085.3 625L1081.1 614.5A39 39 0 0 1 1073.2 611.2L1062.8 615.7A48.5 48.5 0 0 1 1053.3 606.2L1057.8 595.8A39 39 0 0 1 1054.5 587.9L1044 583.7A48.5 48.5 0 0 1 1044 570.3L1054.5 566.1A39 39 0 0 1 1057.8 558.2L1053.3 547.8A48.5 48.5 0 0 1 1062.8 538.3L1073.2 542.8A39 39 0 0 1 1081.1 539.5Z" fill="#dfe5ec" stroke="#10224a" stroke-width="3.5" stroke-linejoin="round" stroke-linecap="round" /><circle cx="1092" cy="577" r="27.5" fill="#2dbcba" stroke="#10224a" stroke-width="3.5"/><circle cx="1092" cy="577" r="10.5" fill="#dfe8ee" stroke="#10224a" stroke-width="3.5"/><rect x="1277.5" y="539.5" width="140" height="108.5" rx="0" fill="#e3e7ed" stroke="#10224a" stroke-width="3.5" /><rect x="1295.5" y="555.5" width="101.5" height="75.5" rx="4" fill="#3b80d2" stroke="#10224a" stroke-width="3.5" /><rect x="1307" y="572" width="9.5" height="49" rx="0" fill="#a6e2ea" stroke="#10224a" stroke-width="2.4" /><rect x="1326.5" y="578" width="10.5" height="43" rx="0" fill="#a6e2ea" stroke="#10224a" stroke-width="2.4" /><rect x="1356.5" y="565.5" width="10.5" height="55.5" rx="0" fill="#a6e2ea" stroke="#10224a" stroke-width="2.4" /><rect x="1376.5" y="580.5" width="10.5" height="11.5" rx="0" fill="#a6e2ea" stroke="#10224a" stroke-width="2.2" /><path d="M1344 562V621M1387 598V612" stroke="#2a63b5" stroke-width="2" fill="none"/><path d="M1094 655V674Q1094 690 1110 690H1184Q1200 690 1200 674V640" fill="none" stroke="#10224a" stroke-width="16.0" stroke-linejoin="round"/><path d="M1094 655V674Q1094 690 1110 690H1184Q1200 690 1200 674V640" fill="none" stroke="#3b80d2" stroke-width="9" stroke-linejoin="round"/><rect x="1077" y="648.5" width="33" height="11.5" rx="2" fill="#3b80d2" stroke="#10224a" stroke-width="3.5" /><rect x="1182.5" y="634" width="33" height="10.5" rx="1.5" fill="#5fcfd2" stroke="#10224a" stroke-width="3.5" /><path d="M1254 637V699Q1254 724.5 1279 724.5H1412" fill="none" stroke="#10224a" stroke-width="26.5" stroke-linejoin="round"/><path d="M1254 637V699Q1254 724.5 1279 724.5H1412" fill="none" stroke="#2dbcba" stroke-width="19.5" stroke-linejoin="round"/><path d="M1361.5 648V671M1386 677H1412M1316 692H1330Q1336 692 1341 688" fill="none" stroke="#10224a" stroke-width="2.4" stroke-linejoin="round" stroke-linecap="round" /><path d="M1350 671.5H1384Q1387 671.5 1386.5 675L1385.5 682Q1384.5 690 1377 690H1350Q1341 690 1341 681Q1341 671.5 1350 671.5Z" fill="#41d27c" stroke="#10224a" stroke-width="2.6" stroke-linejoin="round" stroke-linecap="round" /><rect x="1296.5" y="655" width="19" height="120" rx="0" fill="#3b80d2" stroke="#10224a" stroke-width="3.5" /><rect x="1285.5" y="648.5" width="40.5" height="11.5" rx="1.5" fill="#5fcfd2" stroke="#10224a" stroke-width="3.5" /></g>
</svg>
</body></html>
